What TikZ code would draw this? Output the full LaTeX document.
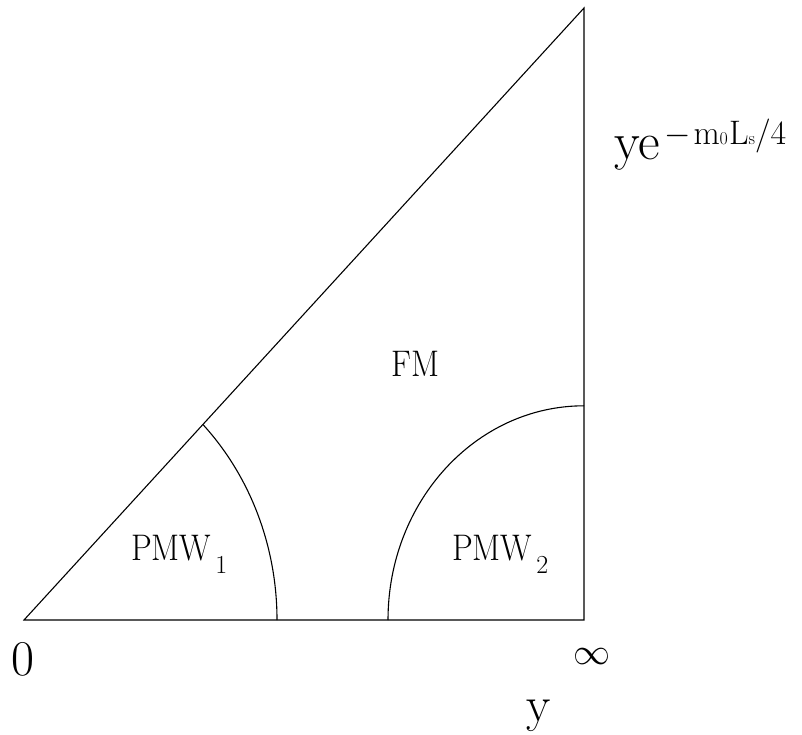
\RequirePackage{fix-cm}
\documentclass[tikz,border=0pt]{standalone}
\usepackage{graphicx}
\begin{document}
\begin{tikzpicture}[x=1pt,y=1pt,
  edge/.style={line width=1.1pt,line join=miter},
  inlabel/.style={anchor=base west,inner sep=0pt,font=\fontsize{37}{37}\selectfont},
  axlabel/.style={inner sep=0pt,font=\fontsize{50}{50}\selectfont}]
\useasboundingbox (0,0) rectangle (802,734);
\coordinate (O) at (24,114);
\coordinate (B) at (584,114);
\coordinate (T) at (584,726);
\coordinate (A1) at (277,114);
\coordinate (A2) at (388,114);
\draw[edge] (O) -- (B) -- (T) -- cycle;
\draw[edge] (A1) arc[start angle=0,end angle=45,x radius=253,y radius=276.5];
\draw[edge] (A2) arc[start angle=180,end angle=90,x radius=196,y radius=214.2];
\node[inlabel] (fm) at (391,357) {\scalebox{0.89}[1]{FM}};
\node[inlabel] (p1) at (131,174) {\scalebox{0.89}[1]{PMW}\kern4pt\raisebox{-13pt}{\fontsize{26}{26}\selectfont 1}};
\node[inlabel] (p2) at (452,174) {\scalebox{0.89}[1]{PMW}\kern4pt\raisebox{-13pt}{\fontsize{26}{26}\selectfont 2}};
\node[inner sep=0pt,anchor=base west,font=\fontsize{53}{53}\selectfont] (ylab) at (614,574)
  {ye\kern4pt\raisebox{15pt}{\fontsize{34}{34}\selectfont$-$\kern3pt m{\fontsize{18}{18}\selectfont 0}\kern1pt L{\fontsize{18}{18}\selectfont s}/4}};
\node[axlabel,anchor=base] (zero) at (23,59) {0};
\node[inner sep=0pt,font=\fontsize{37}{37}\selectfont] (inf) at (592,77) {$\infty$};
\node[axlabel,anchor=base west] (ybot) at (526,13) {y};
\end{tikzpicture}
\end{document}
